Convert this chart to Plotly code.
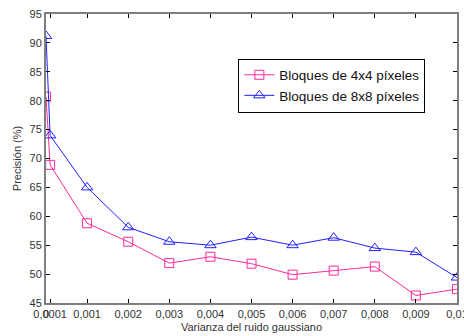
import plotly.graph_objects as go

# Noise variance levels and measured precision (%)
varianza = [0, 0.0001, 0.001, 0.002, 0.003, 0.004, 0.005, 0.006, 0.007, 0.008, 0.009, 0.01]
precision_4x4 = [80.7, 68.9, 58.8, 55.6, 51.9, 53.0, 51.8, 49.9, 50.6, 51.3, 46.3, 47.4]
precision_8x8 = [91.2, 74.0, 65.0, 58.1, 55.6, 55.0, 56.4, 55.0, 56.3, 54.5, 53.8, 49.4]

tick_vals = [0, 0.0001, 0.001, 0.002, 0.003, 0.004, 0.005, 0.006, 0.007, 0.008, 0.009, 0.01]
tick_text = ["0", "0,0001", "0,001", "0,002", "0,003", "0,004", "0,005",
             "0,006", "0,007", "0,008", "0,009", "0,01"]

PINK = "#ff2a9a"
BLUE = "#2020ff"
AXIS = "#7f7f7f"
FONT = "Liberation Sans, Arial, sans-serif"

fig = go.Figure()
fig.add_trace(go.Scatter(
    x=varianza, y=precision_4x4, mode="lines+markers",
    name="Bloques de 4x4 píxeles",
    line=dict(color=PINK, width=1),
    marker=dict(symbol="square-open", size=9, color=PINK, line=dict(width=1)),
))
fig.add_trace(go.Scatter(
    x=varianza, y=precision_8x8, mode="lines+markers",
    name="Bloques de 8x8 píxeles",
    line=dict(color=BLUE, width=1),
    marker=dict(symbol="triangle-up-open", size=10, color=BLUE, line=dict(width=1)),
))

axis_common = dict(
    showgrid=False, zeroline=False, showline=True, linecolor=AXIS, linewidth=2,
    mirror="allticks", ticks="inside", ticklen=4, tickcolor="#000000", tickwidth=1,
    tickfont=dict(family=FONT, size=11, color="#333333"),
    automargin=False, ticklabeloverflow="allow",
)

fig.update_layout(
    width=464, height=336,
    margin=dict(l=46, r=7, t=14, b=33),
    paper_bgcolor="white", plot_bgcolor="white",
    font=dict(family=FONT, size=11, color="#333333"),
    xaxis=dict(
        range=[0, 0.01], tickvals=tick_vals, ticktext=tick_text, tickangle=0,
        title=dict(text="Varianza del ruido gaussiano", font=dict(size=11), standoff=4),
        **axis_common,
    ),
    yaxis=dict(
        range=[45, 95], dtick=5,
        title=dict(text="Precisión (%)", font=dict(size=11), standoff=6),
        **axis_common,
    ),
    legend=dict(
        x=0.468, y=0.846, xanchor="left", yanchor="top",
        bordercolor="#000000", borderwidth=1, bgcolor="white",
        font=dict(family=FONT, size=13.5, color="#111111"),
        tracegroupgap=0, itemwidth=30,
    ),
    showlegend=True,
)

fig.write_html("out.html")
